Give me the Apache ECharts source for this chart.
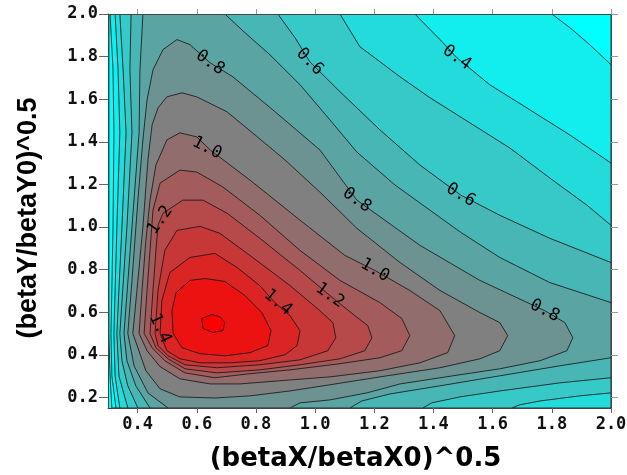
<!DOCTYPE html>
<html>
<head>
<meta charset="utf-8">
<script src="https://cdn.jsdelivr.net/npm/echarts@6/dist/echarts.min.js"></script>
<style>
  html, body { margin: 0; padding: 0; background: #fff; }
  #main { width: 627px; height: 475px; }
</style>
</head>
<body>
<div id="main"></div>
<script>
// axis ticks
var X_TICKS = [0.4, 0.6, 0.8, 1.0, 1.2, 1.4, 1.6, 1.8, 2.0];
var Y_TICKS = [0.2, 0.4, 0.6, 0.8, 1.0, 1.2, 1.4, 1.6, 1.8, 2.0];

// contour levels, each one with the outline of the area above it
var LEVELS = [0.2, 0.3, 0.4, 0.5, 0.6, 0.7, 0.8, 0.9, 1.0, 1.1, 1.2, 1.3, 1.4, 1.5, 1.6];

var c02 = [[0.303,2.0],[0.303,1.0],[0.303,0.5],[0.307,0.30],[0.313,0.15],[2.0,0.15],[2.0,2.0]];
var c03 = [[0.307,2.0],[0.317,1.738],[0.32,1.442],[0.317,1.0],[0.31,0.5],[0.313,0.3],[0.327,0.15],[2.0,0.15],
  [2.0,1.762],[1.928,1.856],[1.861,1.936],[1.8,2.0]];
var c04 = [[0.324,2.0],[0.334,1.738],[0.34,1.442],[0.33,1.0],[0.32,0.5],[0.324,0.3],[0.34,0.15],[2.0,0.15],
  [2.0,1.3],[1.861,1.432],[1.726,1.55],[1.59,1.668],[1.479,1.795],[1.422,1.88],[1.337,2.0]];
var c05 = [[0.34,2.0],[0.351,1.738],[0.361,1.442],[0.347,1.0],[0.33,0.5],[0.337,0.3],[0.367,0.15],[1.665,0.15],
  [1.692,0.165],[1.76,0.183],[1.894,0.207],[2.0,0.221],[2.0,1.008],[1.918,1.103],[1.793,1.23],[1.658,1.371],
  [1.523,1.489],[1.388,1.607],[1.287,1.705],[1.151,1.847],[1.084,2.0]];
var c06 = [[0.378,2.0],[0.374,1.738],[0.381,1.442],[0.364,1.0],[0.34,0.5],[0.347,0.372],[0.367,0.254],[0.401,0.15],
  [1.364,0.15],[1.394,0.174],[1.489,0.202],[1.624,0.23],[1.827,0.268],[2.0,0.292],[2.0,0.833],[1.793,0.947],
  [1.624,1.055],[1.492,1.15],[1.354,1.291],[1.219,1.456],[1.084,1.635],[0.982,1.776],[0.932,1.889],[0.874,2.0]];
var c07 = [[0.418,2.0],[0.408,1.738],[0.405,1.442],[0.381,1.0],[0.354,0.5],[0.364,0.372],[0.394,0.254],[0.442,0.15],
  [1.117,0.15],[1.158,0.183],[1.253,0.216],[1.422,0.254],[1.624,0.301],[1.827,0.348],[2.0,0.386],[2.0,0.645],
  [1.793,0.739],[1.624,0.857],[1.492,0.975],[1.388,1.079],[1.27,1.197],[1.141,1.352],[1.05,1.503],[0.949,1.668],
  [0.847,1.809],[0.763,1.912],[0.695,2.0]];
var c08 = [[0.503,0.15],[0.435,0.221],[0.388,0.348],[0.367,0.5],[0.381,0.749],[0.401,1.126],[0.418,1.409],
  [0.432,1.597],[0.452,1.738],[0.486,1.833],[0.533,1.88],[0.577,1.856],[0.645,1.771],[0.722,1.705],[0.857,1.55],
  [1.016,1.362],[1.141,1.126],[1.354,0.914],[1.557,0.749],[1.776,0.607],[1.844,0.551],[1.871,0.48],[1.851,0.419],
  [1.76,0.372],[1.624,0.334],[1.489,0.306],[1.287,0.263],[1.175,0.221],[1.05,0.188],[0.949,0.174],[0.915,0.15]];
var c09 = [[0.543,0.202],[0.476,0.24],[0.428,0.325],[0.384,0.5],[0.401,0.749],[0.418,1.0],[0.435,1.315],
  [0.449,1.479],[0.469,1.559],[0.499,1.611],[0.55,1.63],[0.6,1.611],[0.702,1.541],[0.797,1.432],[0.898,1.315],
  [1.016,1.164],[1.141,0.994],[1.287,0.833],[1.422,0.702],[1.557,0.598],[1.624,0.551],[1.651,0.49],[1.624,0.419],
  [1.557,0.381],[1.422,0.339],[1.219,0.296],[1.05,0.259],[0.915,0.23],[0.78,0.207],[0.661,0.197]];
var c10 = [[0.405,0.5],[0.415,0.702],[0.428,0.937],[0.442,1.126],[0.462,1.291],[0.499,1.409],[0.543,1.442],
  [0.6,1.423],[0.645,1.362],[0.78,1.22],[0.949,1.032],[1.1,0.867],[1.202,0.796],[1.32,0.702],[1.422,0.607],
  [1.472,0.49],[1.448,0.41],[1.354,0.362],[1.219,0.325],[1.05,0.296],[0.881,0.278],[0.746,0.263],[0.645,0.263],
  [0.543,0.287],[0.476,0.344],[0.432,0.419]];
var c11 = [[0.422,0.5],[0.432,0.702],[0.442,0.89],[0.452,1.079],[0.476,1.206],[0.543,1.267],[0.6,1.258],
  [0.688,1.188],[0.813,1.055],[0.949,0.89],[1.084,0.749],[1.219,0.645],[1.293,0.57],[1.32,0.49],[1.293,0.419],
  [1.219,0.386],[1.084,0.358],[0.915,0.329],[0.78,0.311],[0.661,0.292],[0.56,0.315],[0.492,0.372],[0.449,0.433]];
var c12 = [[0.442,0.5],[0.452,0.702],[0.462,0.89],[0.469,1.008],[0.486,1.065],[0.553,1.126],[0.621,1.126],
  [0.702,1.065],[0.813,0.947],[0.949,0.796],[1.05,0.678],[1.134,0.584],[1.178,0.537],[1.192,0.48],[1.168,0.419],
  [1.084,0.381],[0.949,0.353],[0.813,0.329],[0.668,0.315],[0.56,0.334],[0.503,0.381],[0.462,0.433]];
var c13 = [[0.459,0.5],[0.469,0.702],[0.492,0.89],[0.533,0.984],[0.611,1.003],[0.678,0.97],[0.78,0.866],
  [0.915,0.725],[1.016,0.607],[1.06,0.551],[1.07,0.48],[1.043,0.419],[0.949,0.376],[0.813,0.353],[0.668,0.339],
  [0.56,0.353],[0.503,0.395],[0.469,0.443]];
var c14 = [[0.476,0.5],[0.482,0.654],[0.509,0.786],[0.577,0.857],[0.661,0.876],[0.736,0.81],[0.813,0.725],
  [0.864,0.645],[0.915,0.584],[0.949,0.513],[0.939,0.443],[0.898,0.4],[0.813,0.372],[0.712,0.362],[0.611,0.362],
  [0.543,0.381],[0.499,0.419]];
var c15 = [[0.52,0.5],[0.516,0.607],[0.53,0.692],[0.577,0.749],[0.628,0.758],[0.695,0.744],[0.763,0.678],
  [0.82,0.598],[0.851,0.513],[0.84,0.443],[0.78,0.41],[0.695,0.395],[0.611,0.405],[0.55,0.433]];
var c16 = [[0.617,0.57],[0.651,0.589],[0.678,0.579],[0.695,0.551],[0.688,0.513],[0.655,0.504],[0.621,0.523]];

var RINGS = [c02, c03, c04, c05, c06, c07, c08, c09, c10, c11, c12, c13, c14, c15, c16];

// contour labels
var LABEL_TEXT = ['0.4', '0.6', '0.8', '0.6', '1.0', '0.8', '1.2', '1.0', '1.2', '1.4', '1.4', '0.8'];
var LABEL_AT = [[1.479,1.795],[0.982,1.776],[0.645,1.771],[1.492,1.15],[0.634,1.371],[1.141,1.126],
  [0.476,1.032],[1.202,0.796],[1.05,0.678],[0.874,0.645],[0.476,0.523],[1.776,0.607]];
var LABEL_ANGLE = [-35, -45, -35, -30, -27, -35, 55, -30, -35, -40, -65, -27];

// cyan -> grey -> red
function bandColor(level) {
	var t = (level - 0.2) / 1.4;
	t = Math.max(0, Math.min(1, t));
	var r = Math.round(255 * t);
	var g = Math.round(255 * (1 - t));
	return 'rgb(' + r + ',' + g + ',' + g + ')';
}

var tickFont = {
	color: '#111',
	fontFamily: 'DejaVu Sans Mono',
	fontWeight: 'bold',
	fontSize: 17
};

var chart = echarts.init(document.getElementById('main'));

var option = {
	animation: false,
	backgroundColor: '#fff',
	grid: {
		left: 108,
		right: 16,
		top: 14,
		bottom: 67,
		show: true,
		borderWidth: 0,
		backgroundColor: bandColor(0.1),
		outerBoundsMode: 'none'
	},
	xAxis: [{
		type: 'value',
		min: 0.3,
		max: 2.0,
		position: 'bottom',
		z: 10,
		axisLine: { show: true, onZero: false, lineStyle: { color: '#444', width: 1 } },
		axisTick: { show: true, inside: false, length: 5, customValues: X_TICKS, lineStyle: { color: '#666' } },
		axisLabel: Object.assign({
			customValues: X_TICKS,
			margin: 8,
			formatter: function (v) { return v.toFixed(1); }
		}, tickFont),
		splitLine: { show: false },
		name: '(betaX/betaX0)^0.5',
		nameLocation: 'middle',
		nameGap: 38,
		nameTextStyle: { color: '#000', fontFamily: 'DejaVu Sans', fontWeight: 'bold', fontSize: 26, padding: [0, 8, 0, 0] }
	}, {
		type: 'value',
		min: 0.3,
		max: 2.0,
		position: 'top',
		z: 10,
		axisLine: { show: true, onZero: false, lineStyle: { color: '#444', width: 1 } },
		axisTick: { show: true, inside: false, length: 5, customValues: X_TICKS, lineStyle: { color: '#999' } },
		axisLabel: { show: false },
		splitLine: { show: false }
	}],
	yAxis: [{
		type: 'value',
		min: 0.15,
		max: 2.0,
		position: 'left',
		z: 10,
		axisLine: { show: true, onZero: false, lineStyle: { color: '#444', width: 1 } },
		axisTick: { show: true, inside: false, length: 9, customValues: Y_TICKS, lineStyle: { color: '#666' } },
		axisLabel: Object.assign({
			customValues: Y_TICKS,
			margin: 10,
			formatter: function (v) { return v.toFixed(1); }
		}, tickFont),
		splitLine: { show: false },
		name: '(betaY/betaY0)^0.5',
		nameLocation: 'middle',
		nameGap: 66,
		nameTextStyle: { color: '#000', fontFamily: 'Liberation Sans', fontWeight: 'bold', fontSize: 27, padding: [0, 14, 0, 0] }
	}, {
		type: 'value',
		min: 0.15,
		max: 2.0,
		position: 'right',
		z: 10,
		axisLine: { show: true, onZero: false, lineStyle: { color: '#444', width: 1 } },
		axisTick: { show: true, inside: false, length: 7, customValues: Y_TICKS, lineStyle: { color: '#999' } },
		axisLabel: { show: false },
		splitLine: { show: false }
	}],
	series: [{
		// filled bands, lowest first
		type: 'custom',
		coordinateSystem: 'cartesian2d',
		xAxisIndex: 0,
		yAxisIndex: 0,
		clip: true,
		silent: true,
		z: 2,
		data: LEVELS.map(function (v) { return [v, v]; }),
		renderItem: function (params, api) {
			var ring = RINGS[params.dataIndex];
			var pts = ring.map(function (p) { return api.coord(p); });
			return {
				type: 'polygon',
				shape: { points: pts },
				style: {
					fill: bandColor(LEVELS[params.dataIndex]),
					stroke: '#111',
					lineWidth: 0.8,
					lineJoin: 'round'
				}
			};
		}
	}, {
		// level labels on the lines
		type: 'custom',
		coordinateSystem: 'cartesian2d',
		xAxisIndex: 0,
		yAxisIndex: 0,
		silent: true,
		z: 5,
		data: LABEL_AT,
		renderItem: function (params, api) {
			var i = params.dataIndex;
			var p = api.coord(LABEL_AT[i]);
			return {
				type: 'text',
				x: p[0],
				y: p[1],
				rotation: LABEL_ANGLE[i] * Math.PI / 180,
				style: {
					text: LABEL_TEXT[i],
					fill: '#000',
					font: '17px "DejaVu Sans Mono"',
					align: 'center',
					verticalAlign: 'middle'
				}
			};
		}
	}]
};

chart.setOption(option);
</script>
</body>
</html>
